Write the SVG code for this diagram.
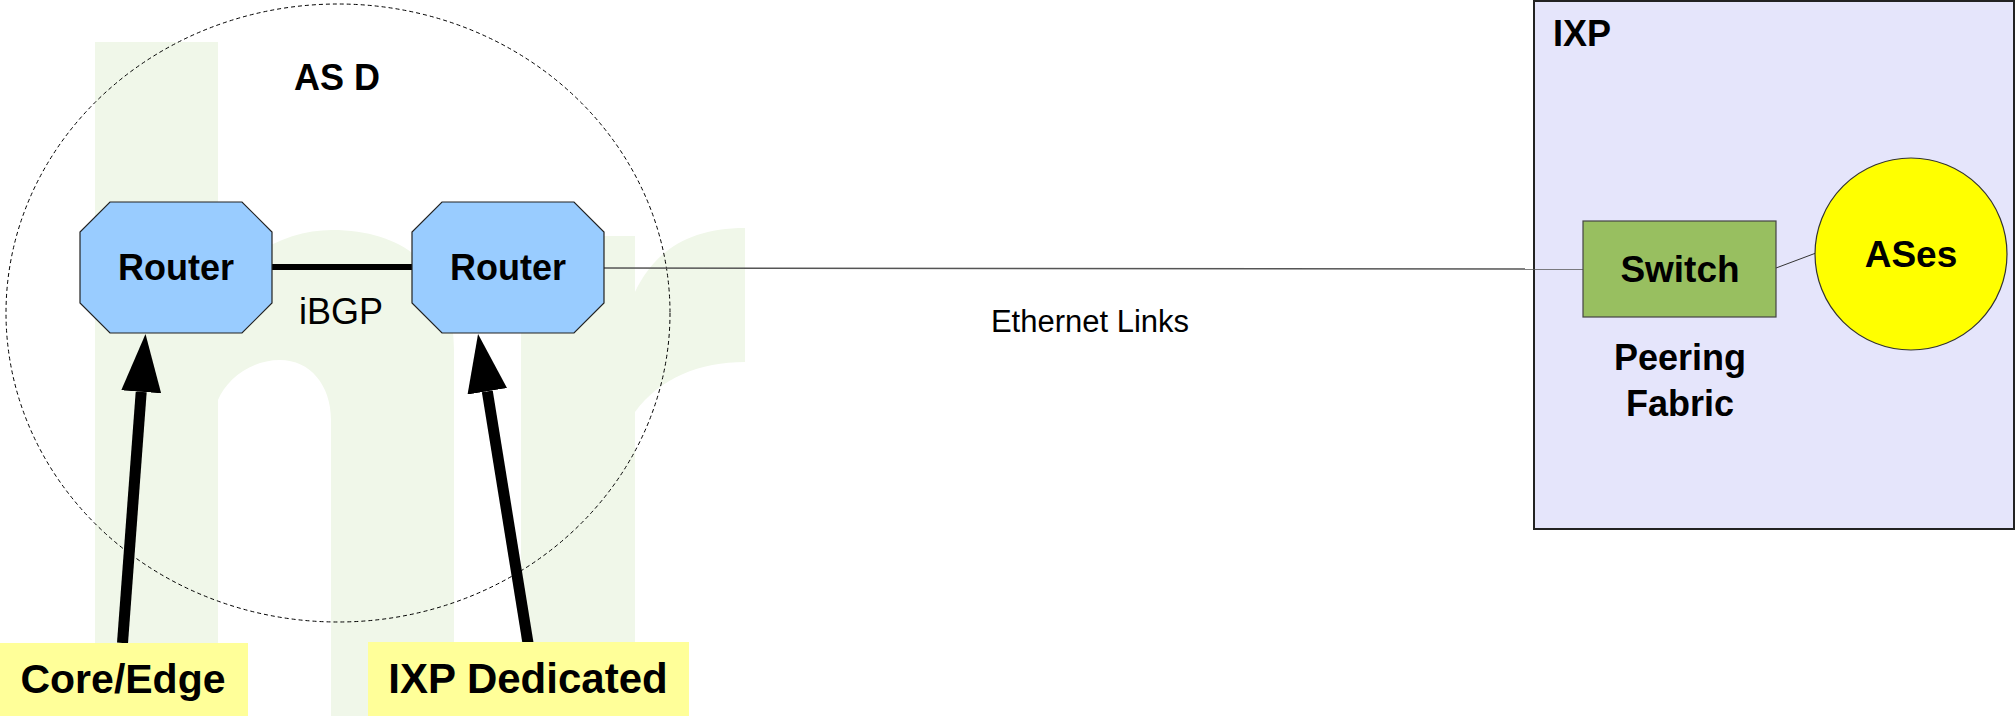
<svg xmlns="http://www.w3.org/2000/svg" width="2015" height="716" viewBox="0 0 2015 716">
<style>
.bold{font-family:"Liberation Sans",Arial,sans-serif;font-weight:bold;fill:#000}
.reg{font-family:"Liberation Sans",Arial,sans-serif;fill:#000}
.router{fill:#99ccff;stroke:#222;stroke-width:1.2}
.wm{fill:#f0f7e9}
.lbl{fill:#ffff99}
</style>
<defs>
<marker id="arrow" markerUnits="userSpaceOnUse" markerWidth="60" markerHeight="40" refX="0" refY="20" orient="auto">
<path d="M0,0 L58,20 L0,40 Z" fill="#000"/>
</marker>
</defs>
<rect width="2015" height="716" fill="#fff"/>
<g id="watermark">
<rect class="wm" x="95" y="42" width="123" height="674"/>
<path class="wm" d="M218,300 C240,252 290,230 332,230 C412,230 454,276 454,350 L454,716 L331,716 L331,420 C331,385 310,360 280,360 C250,360 226,380 218,400 Z"/>
<rect class="wm" x="521" y="236" width="114" height="480"/>
<path class="wm" d="M635,292 C655,250 690,228 745,228 L745,362 C700,362 660,378 635,412 Z"/>
</g>
<g id="ixp">
<rect x="1534" y="1" width="480" height="528" fill="#e5e5fb" stroke="#222" stroke-width="2"/>
<text class="bold" x="1553" y="46" font-size="36">IXP</text>
</g>
<g id="as-d">
<ellipse cx="338" cy="313" rx="332" ry="309" fill="none" stroke="#000" stroke-width="1" stroke-dasharray="4,3"/>
<text class="bold" x="337" y="90" font-size="36" text-anchor="middle">AS D</text>
</g>
<g id="connectors">
<line x1="272" y1="267" x2="412" y2="267" stroke="#000" stroke-width="6"/>
<line x1="604" y1="268" x2="1583" y2="269" stroke="#555" stroke-width="1.5"/>
<line x1="1776" y1="268" x2="1816" y2="253" stroke="#333" stroke-width="1"/>
<line x1="122.5" y1="643" x2="141.2" y2="391.8" stroke="#000" stroke-width="11" marker-end="url(#arrow)"/>
<line x1="528" y1="643" x2="487.3" y2="391.3" stroke="#000" stroke-width="11" marker-end="url(#arrow)"/>
<text class="reg" x="341" y="324" font-size="36" text-anchor="middle">iBGP</text>
<text class="reg" x="1090" y="332" font-size="31" text-anchor="middle">Ethernet Links</text>
</g>
<g id="router1">
<polygon class="router" points="110,202 242,202 272,232 272,303 242,333 110,333 80,303 80,232"/>
<text class="bold" x="176" y="280" font-size="36" text-anchor="middle">Router</text>
</g>
<g id="router2">
<polygon class="router" points="442,202 574,202 604,232 604,303 574,333 442,333 412,303 412,232"/>
<text class="bold" x="508" y="280" font-size="36" text-anchor="middle">Router</text>
</g>
<g id="switch">
<rect x="1583" y="221" width="193" height="96" fill="#98bf60" stroke="#444" stroke-width="1.2"/>
<text class="bold" x="1680" y="282" font-size="37" text-anchor="middle">Switch</text>
<text class="bold" x="1680" y="370" font-size="36" text-anchor="middle">Peering</text>
<text class="bold" x="1680" y="416" font-size="36" text-anchor="middle">Fabric</text>
</g>
<g id="ases">
<circle cx="1911" cy="254" r="96" fill="#ffff00" stroke="#333" stroke-width="1.2"/>
<text class="bold" x="1911" y="267" font-size="37" text-anchor="middle">ASes</text>
</g>
<g id="core-edge">
<rect class="lbl" x="0" y="643" width="248" height="73"/>
<text class="bold" x="123" y="693" font-size="41" text-anchor="middle">Core/Edge</text>
</g>
<g id="ixp-dedicated">
<rect class="lbl" x="368" y="642" width="321" height="74"/>
<text class="bold" x="528" y="693" font-size="42" text-anchor="middle">IXP Dedicated</text>
</g>
</svg>
